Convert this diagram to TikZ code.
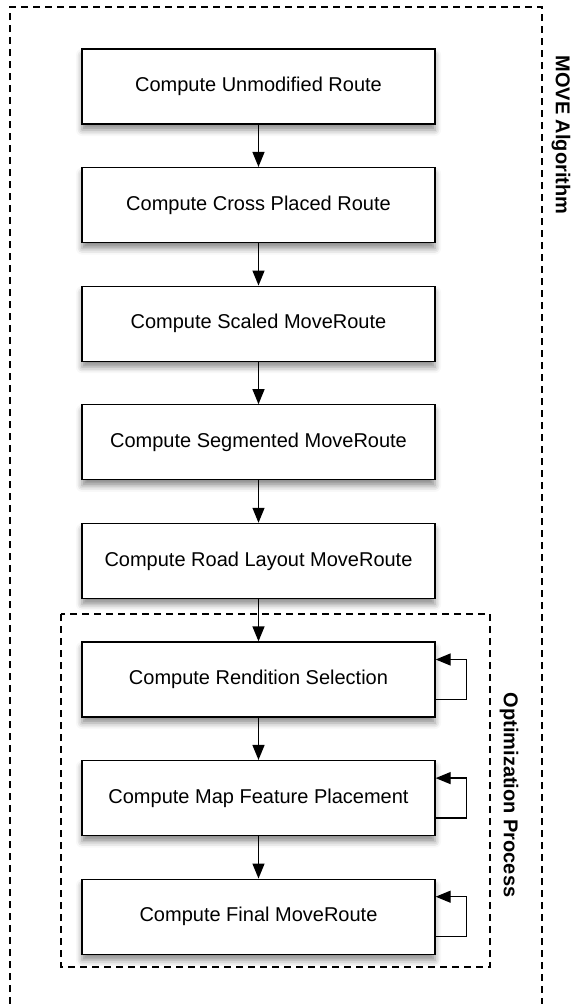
\documentclass[tikz,border=0pt]{standalone}
\usepackage{fontspec}
\setmainfont{Liberation Sans}
\usetikzlibrary{arrows.meta, positioning, shadows.blur}

\begin{document}
\begin{tikzpicture}[x=1pt, y=-1pt,
    node distance=42.3pt,
    box/.style={draw, line width=1.3pt, fill=white, minimum width=353pt,
                minimum height=75pt, inner sep=0pt, font=\fontsize{20}{24}\selectfont,
                blur shadow={shadow xshift=0pt, shadow yshift=-6pt,
                             shadow blur radius=6pt, shadow opacity=45}},
    arr/.style={-{Triangle[length=15pt, width=12pt]}, line width=1.3pt},
    frame/.style={dash pattern=on 7pt off 5pt, line width=1.4pt},
    lbl/.style={rotate=-90, font=\fontsize{20}{24}\selectfont\bfseries}]
    \useasboundingbox (0,0) rectangle (571,1004);
    % frames
    \draw[frame] (10,1004) -- (10,7) -- (542,7) -- (542,1004);
    \draw[frame] (61,614) rectangle (490,967);
    \node[lbl] (movelbl) at (561,135) {MOVE Algorithm};
    \node[lbl] (optlbl) at (509,795) {Optimization Process};
    % steps
    \node[box] (unmod) at (258.5,86.5) {Compute Unmodified Route};
    \node[box, below=of unmod] (cross) {Compute Cross Placed Route};
    \node[box, below=of cross] (scaled) {Compute Scaled MoveRoute};
    \node[box, below=of scaled] (segm) {Compute Segmented MoveRoute};
    \node[box, below=of segm] (road) {Compute Road Layout MoveRoute};
    \node[box, below=of road] (rend) {Compute Rendition Selection};
    \node[box, below=of rend] (feat) {Compute Map Feature Placement};
    \node[box, below=of feat] (final) {Compute Final MoveRoute};
    \draw[arr] (unmod) -- (cross);
    \draw[arr] (cross) -- (scaled);
    \draw[arr] (scaled) -- (segm);
    \draw[arr] (segm) -- (road);
    \draw[arr] (road) -- (rend);
    \draw[arr] (rend) -- (feat);
    \draw[arr] (feat) -- (final);
    % self loops
    \foreach \n in {rend, feat, final}
      \draw[arr] ([yshift=-20pt]\n.east) -- ++(31,0) |- ([yshift=20pt]\n.east);
  \end{tikzpicture}
\end{document}
